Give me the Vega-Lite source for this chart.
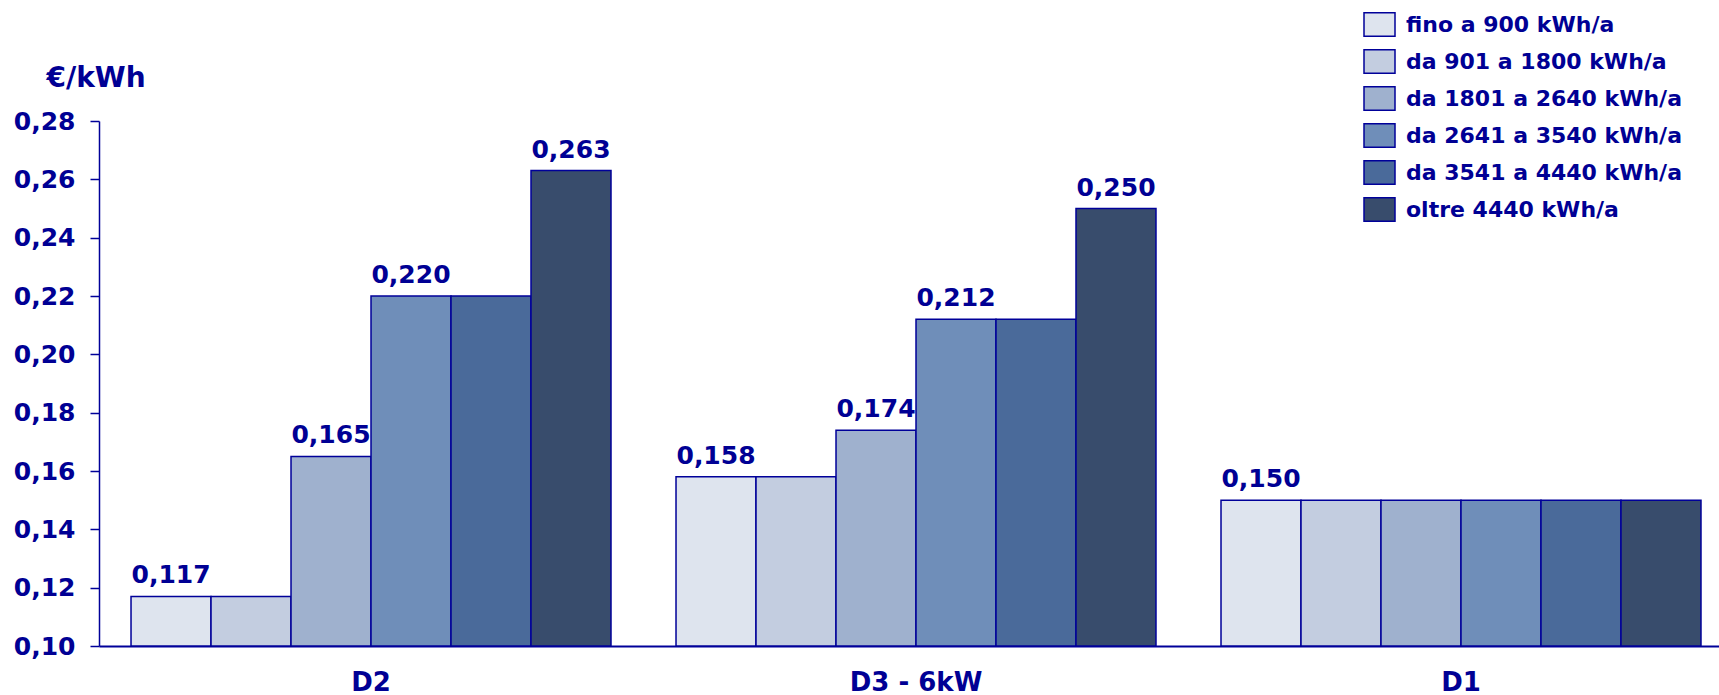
{
  "$schema": "https://vega.github.io/schema/vega-lite/v6.json",
  "width": 1620,
  "height": 525,
  "autosize": "none",
  "padding": {"left": 99, "top": 121, "right": 0, "bottom": 49},
  "background": "white",
  "config": {
    "locale": {"number": {"decimal": ",", "thousands": ".", "grouping": [3], "currency": ["€", ""]}},
    "view": {"stroke": null},
    "font": "DejaVu Sans"
  },
  "data": {
    "values": [
      {"tariffa": "D2", "fascia": "fino a 900 kWh/a", "da_kwh": 0, "valore": 0.117},
      {"tariffa": "D2", "fascia": "da 901 a 1800 kWh/a", "da_kwh": 901, "valore": 0.117},
      {"tariffa": "D2", "fascia": "da 1801 a 2640 kWh/a", "da_kwh": 1801, "valore": 0.165},
      {"tariffa": "D2", "fascia": "da 2641 a 3540 kWh/a", "da_kwh": 2641, "valore": 0.220},
      {"tariffa": "D2", "fascia": "da 3541 a 4440 kWh/a", "da_kwh": 3541, "valore": 0.220},
      {"tariffa": "D2", "fascia": "oltre 4440 kWh/a", "da_kwh": 4441, "valore": 0.263},
      {"tariffa": "D3 - 6kW", "fascia": "fino a 900 kWh/a", "da_kwh": 0, "valore": 0.158},
      {"tariffa": "D3 - 6kW", "fascia": "da 901 a 1800 kWh/a", "da_kwh": 901, "valore": 0.158},
      {"tariffa": "D3 - 6kW", "fascia": "da 1801 a 2640 kWh/a", "da_kwh": 1801, "valore": 0.174},
      {"tariffa": "D3 - 6kW", "fascia": "da 2641 a 3540 kWh/a", "da_kwh": 2641, "valore": 0.212},
      {"tariffa": "D3 - 6kW", "fascia": "da 3541 a 4440 kWh/a", "da_kwh": 3541, "valore": 0.212},
      {"tariffa": "D3 - 6kW", "fascia": "oltre 4440 kWh/a", "da_kwh": 4441, "valore": 0.250},
      {"tariffa": "D1", "fascia": "fino a 900 kWh/a", "da_kwh": 0, "valore": 0.150},
      {"tariffa": "D1", "fascia": "da 901 a 1800 kWh/a", "da_kwh": 901, "valore": 0.150},
      {"tariffa": "D1", "fascia": "da 1801 a 2640 kWh/a", "da_kwh": 1801, "valore": 0.150},
      {"tariffa": "D1", "fascia": "da 2641 a 3540 kWh/a", "da_kwh": 2641, "valore": 0.150},
      {"tariffa": "D1", "fascia": "da 3541 a 4440 kWh/a", "da_kwh": 3541, "valore": 0.150},
      {"tariffa": "D1", "fascia": "oltre 4440 kWh/a", "da_kwh": 4441, "valore": 0.150}
    ]
  },
  "encoding": {
    "x": {
      "field": "tariffa",
      "type": "nominal",
      "sort": ["D2", "D3 - 6kW", "D1"],
      "scale": {"paddingInner": 0.1193, "paddingOuter": 0.0459, "align": 0.64},
      "axis": {
        "title": null,
        "labelAngle": 0,
        "labelFont": "DejaVu Sans",
        "labelFontSize": 26,
        "labelFontWeight": "bold",
        "labelColor": "#000094",
        "labelBaseline": "alphabetic",
        "labelPadding": 44,
        "ticks": false,
        "domainColor": "#000099",
        "domainWidth": 2
      }
    },
    "xOffset": {
      "field": "fascia",
      "type": "nominal",
      "sort": ["fino a 900 kWh/a", "da 901 a 1800 kWh/a", "da 1801 a 2640 kWh/a", "da 2641 a 3540 kWh/a", "da 3541 a 4440 kWh/a", "oltre 4440 kWh/a"],
      "scale": {"paddingInner": 0, "paddingOuter": 0}
    },
    "y": {
      "field": "valore",
      "type": "quantitative",
      "scale": {"domain": [0.1, 0.28], "zero": false, "nice": false},
      "axis": {
        "values": [0.10, 0.12, 0.14, 0.16, 0.18, 0.20, 0.22, 0.24, 0.26, 0.28],
        "format": ".2f",
        "grid": false,
        "labelFont": "DejaVu Sans",
        "labelFontSize": 25,
        "labelFontWeight": "bold",
        "labelColor": "#000094",
        "labelPadding": 15,
        "tickSize": 9,
        "tickColor": "#000099",
        "tickWidth": 1.5,
        "domainColor": "#000099",
        "domainWidth": 1.5,
        "title": "€/kWh",
        "titleAngle": 0,
        "titleAlign": "left",
        "titleBaseline": "alphabetic",
        "titleX": -53,
        "titleY": -35,
        "titleFont": "DejaVu Sans",
        "titleFontSize": 28,
        "titleFontWeight": "bold",
        "titleColor": "#000094"
      }
    }
  },
  "layer": [
    {
      "mark": {"type": "bar", "stroke": "#000099", "strokeWidth": 1.5, "clip": true},
      "encoding": {
        "y2": {"datum": 0.1},
        "color": {
          "field": "fascia",
          "type": "nominal",
          "sort": ["fino a 900 kWh/a", "da 901 a 1800 kWh/a", "da 1801 a 2640 kWh/a", "da 2641 a 3540 kWh/a", "da 3541 a 4440 kWh/a", "oltre 4440 kWh/a"],
          "scale": {"range": ["#DEE4EE", "#C3CDE0", "#9FB1CE", "#6F8EB9", "#4A6A9A", "#384C6C"]},
          "legend": {
            "title": null,
            "orient": "none",
            "legendX": 1264,
            "legendY": -113,
            "padding": 0,
            "symbolType": "M-1,-0.76H1V0.76H-1Z",
            "symbolSize": 961,
            "symbolStrokeColor": "#000099",
            "symbolStrokeWidth": 1.5,
            "symbolOpacity": 1,
            "labelFont": "DejaVu Sans",
            "labelFontSize": 22,
            "labelFontWeight": "bold",
            "labelColor": "#000094",
            "labelOffset": 10,
            "labelLimit": 400,
            "rowPadding": 5
          }
        }
      }
    },
    {
      "transform": [
        {"window": [{"op": "lag", "field": "valore", "as": "precedente"}], "groupby": ["tariffa"], "sort": [{"field": "da_kwh"}]},
        {"filter": "datum.precedente == null || datum.precedente != datum.valore"}
      ],
      "mark": {
        "type": "text",
        "baseline": "alphabetic",
        "dy": -13,
        "font": "DejaVu Sans",
        "fontSize": 25,
        "fontWeight": "bold",
        "color": "#000094"
      },
      "encoding": {
        "text": {"field": "valore", "type": "quantitative", "format": ".3f"}
      }
    }
  ]
}
